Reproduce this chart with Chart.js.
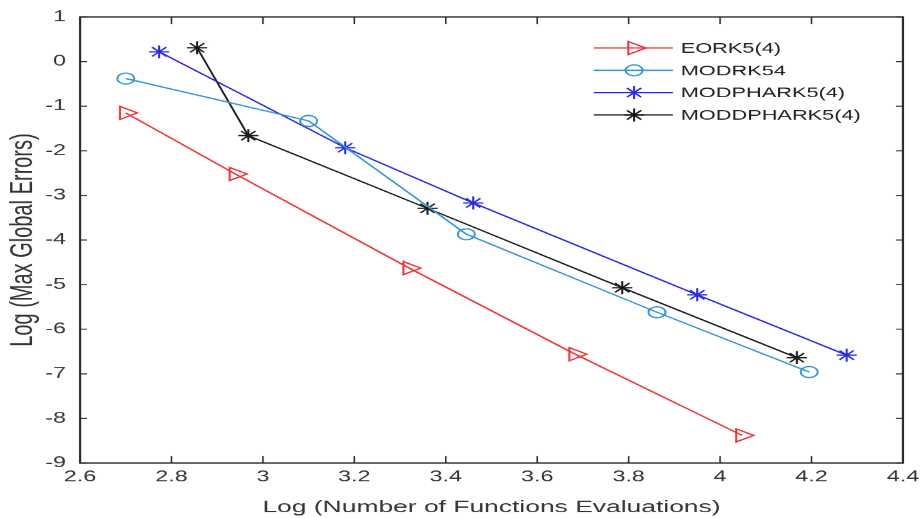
<!DOCTYPE html>
<html>
<head>
<meta charset="utf-8">
<title>Max global errors</title>
<script src="https://cdn.jsdelivr.net/npm/chart.js@4/dist/chart.umd.min.js"></script>
<style>
  html, body { margin: 0; padding: 0; background: #fff; overflow: hidden; }
  /* the reference figure is stretched sideways, so the canvas is too */
  #chart { display: block; transform: scaleX(1.5541); transform-origin: 0 0; }
</style>
</head>
<body>
<canvas id="chart" width="592" height="518"></canvas>
<script>
'use strict';

const STRETCH = 920 / 592;

const seriesNames = ['EORK5(4)', 'MODRK54', 'MODPHARK5(4)', 'MODDPHARK5(4)'];

const eorkX = [2.70, 2.94, 3.32, 3.683, 4.048];
const eorkY = [-1.15, -2.52, -4.63, -6.56, -8.38];

const modrkX = [2.70, 3.10, 3.445, 3.862, 4.195];
const modrkY = [-0.38, -1.33, -3.87, -5.62, -6.96];

const modpharkX = [2.773, 3.18, 3.46, 3.95, 4.277];
const modpharkY = [0.22, -1.93, -3.17, -5.23, -6.58];

const moddpharkX = [2.856, 2.968, 3.36, 3.786, 4.168];
const moddpharkY = [0.31, -1.66, -3.29, -5.07, -6.64];

const xTicks = [2.6, 2.8, 3, 3.2, 3.4, 3.6, 3.8, 4, 4.2, 4.4];
const yTicks = [-9, -8, -7, -6, -5, -4, -3, -2, -1, 0, 1];

const toPoints = (xs, ys) => xs.map((x, i) => ({ x, y: ys[i] }));

const makeSet = (label, xs, ys, color, pointStyle, radius, rotation) => ({
  label,
  data: toPoints(xs, ys),
  borderColor: color,
  borderWidth: 1.3,
  pointStyle,
  pointRadius: radius,
  pointRotation: rotation,
  pointBorderColor: color,
  pointBorderWidth: 1.3,
  pointBackgroundColor: 'rgba(0,0,0,0)',
  tension: 0,
});

// box around the plot with inward ticks on all four sides, like matlab
const boxTicks = {
  id: 'boxTicks',
  afterDatasetsDraw(chart) {
    const { ctx, chartArea: a, scales: { x, y } } = chart;
    ctx.save();
    ctx.strokeStyle = '#2a2a2a';
    ctx.lineWidth = 1.4;
    ctx.strokeRect(a.left, a.top, a.right - a.left, a.bottom - a.top);
    ctx.lineWidth = 1;
    ctx.beginPath();
    x.ticks.forEach((t) => {
      const px = x.getPixelForValue(t.value);
      ctx.moveTo(px, a.bottom);
      ctx.lineTo(px, a.bottom - 7);
      ctx.moveTo(px, a.top);
      ctx.lineTo(px, a.top + 7);
    });
    y.ticks.forEach((t) => {
      const py = y.getPixelForValue(t.value);
      ctx.moveTo(a.left, py);
      ctx.lineTo(a.left + 7 / STRETCH, py);
      ctx.moveTo(a.right, py);
      ctx.lineTo(a.right - 7 / STRETCH, py);
    });
    ctx.stroke();
    ctx.restore();
  },
};

// legend with a line through the marker, top right inside the axes
const lineLegend = {
  id: 'lineLegend',
  afterDraw(chart) {
    const { ctx, chartArea: a } = chart;
    const x0 = a.right - 199;
    const y0 = a.top + 31;
    ctx.save();
    ctx.font = '14px "Liberation Sans", Arial, sans-serif';
    ctx.textBaseline = 'middle';
    chart.data.datasets.forEach((ds, i) => {
      const yy = y0 + i * 22.3;
      ctx.strokeStyle = ds.borderColor;
      ctx.lineWidth = ds.borderWidth;
      ctx.beginPath();
      ctx.moveTo(x0, yy);
      ctx.lineTo(x0 + 51, yy);
      ctx.stroke();
      ctx.fillStyle = 'rgba(0,0,0,0)';
      Chart.helpers.drawPoint(ctx, {
        pointStyle: ds.pointStyle,
        rotation: ds.pointRotation || 0,
        radius: ds.pointRadius,
        borderWidth: ds.pointBorderWidth,
      }, x0 + 26, yy);
      ctx.fillStyle = '#1c1c1c';
      ctx.fillText(ds.label, x0 + 56, yy + 1);
    });
    ctx.restore();
  },
};

Chart.defaults.font.family = '"Liberation Sans", Arial, sans-serif';

const ctx = document.querySelector('#chart');

new Chart(ctx, {
  type: 'line',
  data: {
    datasets: [
      makeSet(seriesNames[0], eorkX, eorkY, 'rgb(236,52,52)', 'triangle', 7.5, 90),
      makeSet(seriesNames[1], modrkX, modrkY, 'rgb(52,150,206)', 'circle', 5.5, 0),
      makeSet(seriesNames[2], modpharkX, modpharkY, 'rgb(40,40,230)', 'star', 6.5, 0),
      makeSet(seriesNames[3], moddpharkX, moddpharkY, 'rgb(24,24,24)', 'star', 6.5, 0),
    ],
  },
  options: {
    responsive: false,
    devicePixelRatio: STRETCH,
    animation: false,
    events: [],
    layout: { padding: { left: 0, top: 17, right: 11, bottom: 0 } },
    plugins: {
      legend: { display: false },
      tooltip: { enabled: false },
    },
    scales: {
      x: {
        type: 'linear',
        min: 2.6,
        max: 4.4,
        afterBuildTicks: (s) => { s.ticks = xTicks.map((v) => ({ value: v })); },
        afterFit: (s) => {
          s.height = 55;
          s.paddingLeft = 0;
          s.paddingRight = 0;
        },
        grid: { display: false, drawTicks: false },
        border: { display: false },
        ticks: { padding: 5, color: '#333', font: { size: 15 }, callback: (v) => String(v), maxRotation: 0 },
        title: {
          display: true,
          text: 'Log (Number of Functions Evaluations)',
          color: '#333',
          font: { size: 17 },
          padding: { top: 0, bottom: 0 },
        },
      },
      y: {
        type: 'linear',
        min: -9,
        max: 1,
        afterBuildTicks: (s) => { s.ticks = yTicks.map((v) => ({ value: v })); },
        afterFit: (s) => {
          s.width = 51.5;
          s.paddingTop = 0;
          s.paddingBottom = 0;
        },
        grid: { display: false, drawTicks: false },
        border: { display: false },
        ticks: { padding: 9, color: '#333', font: { size: 15 }, callback: (v) => String(v) },
        title: {
          display: true,
          text: 'Log (Max Global Errors)',
          color: '#333',
          font: { size: 20 },
          padding: { top: 3, bottom: 0 },
        },
      },
    },
  },
  plugins: [boxTicks, lineLegend],
});
</script>
</body>
</html>
